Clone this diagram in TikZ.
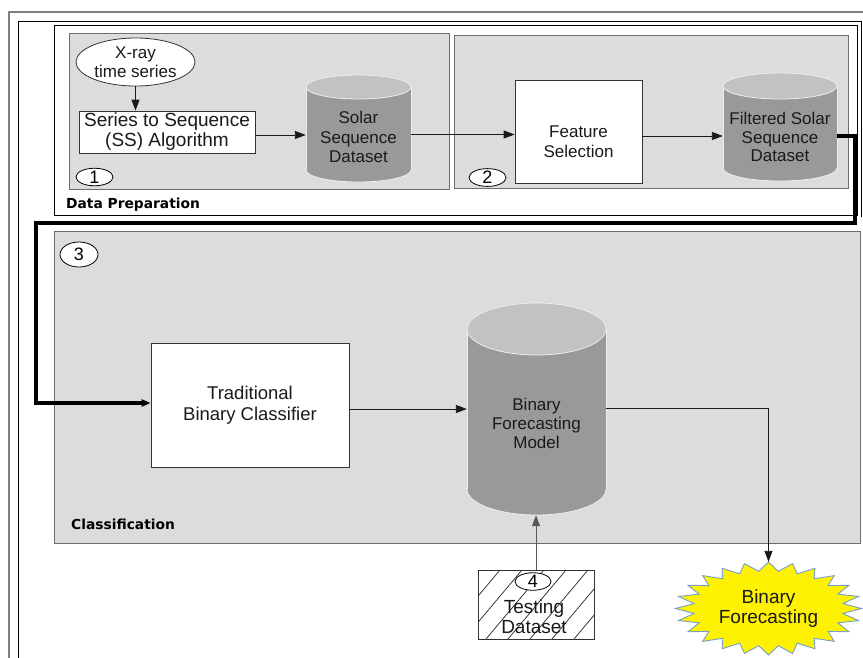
\documentclass[tikz,border=0pt]{standalone}
\usepackage{fontspec}
\setmainfont{Liberation Sans}
\newfontfamily\labfont{DejaVu Sans}
\usetikzlibrary{arrows.meta,shapes.geometric}
\definecolor{panel}{HTML}{DCDCDC}
\definecolor{panelline}{HTML}{6E6E6E}
\definecolor{cylbody}{HTML}{999999}
\definecolor{cyltop}{HTML}{C2C2C2}
\definecolor{cyledge}{HTML}{EEEEEE}
\definecolor{starline}{HTML}{729FCF}
\definecolor{frameg}{HTML}{808080}
\definecolor{txt}{HTML}{1A1A1A}
\newcommand\fsz[2]{\fontsize{#1}{#2}\selectfont}
% #1 x1, #2 y top, #3 x2, #4 y bottom, #5 ry
\newcommand\cylpaint[5]{%
  \pgfmathsetmacro\cylcx{(#1+#3)/2}%
  \pgfmathsetmacro\cylrx{(#3-#1)/2}%
  \path[fill=cylbody,draw=cyledge,line width=0.8pt] (\cylcx,#4-#5) ellipse[x radius=\cylrx pt, y radius=#5 pt];
  \fill[cylbody] (#1,#2+#5) rectangle (#3,#4-#5);
  \draw[cyledge,line width=0.8pt] (#1,#2+#5) -- (#1,#4-#5) (#3,#2+#5) -- (#3,#4-#5);
  \path[fill=cyltop,draw=cyledge,line width=0.8pt] (\cylcx,#2+#5) ellipse[x radius=\cylrx pt, y radius=#5 pt];
}
\begin{document}
\begin{tikzpicture}[x=1pt,y=-1pt,
  panelbox/.style={fill=panel,draw=panelline,line width=0.9pt},
  whitebox/.style={rectangle,fill=white,draw=black!80,line width=0.8pt,inner sep=0pt,align=center,text=txt},
  cylnode/.style={rectangle,inner sep=0pt,draw=none},
  cyltext/.style={align=center,text=txt,font=\fsz{17}{19.5},inner sep=0pt},
  numlab/.style={ellipse,fill=white,draw=black,line width=0.8pt,inner sep=0pt,font=\fsz{18}{18}},
  seclab/.style={anchor=west,inner sep=0pt,font=\labfont\bfseries\fsz{13.8}{16}},
  conn/.style={draw=black!90,line width=0.9pt,-{Triangle[length=11pt,width=8pt]}},
  thickconn/.style={draw=black,line width=3.2pt,-{Triangle[length=9pt,width=7pt]}}
]
\useasboundingbox (0,0) rectangle (863,657);
\fill[white] (0,0) rectangle (863,657);
% outer frames
\draw[frameg,line width=1.4pt] (9,700) -- (9,12) -- (900,12);
\draw[black,line width=0.9pt] (18,700) -- (18,21) -- (861,21) -- (861,217);
% data preparation box
\draw[black,line width=0.8pt,fill=white] (54,25) rectangle (857,215);
\draw[panelbox] (69,33) rectangle (449,189);
\draw[panelbox] (454,35) rectangle (848,188);
\node[seclab] (dp) at (66,205) {Data Preparation};
% classification box
\draw[panelbox] (54,231) rectangle (860,543);
\node[seclab] (cl) at (71,524) {Classification};

% step 1
\node[ellipse,fill=white,draw=black!80,line width=0.8pt,minimum width=119pt,minimum height=48pt,inner sep=0pt,align=center,text=txt,font=\fsz{17}{19}] (xray) at (135.5,62) {X-ray\\time series};
\node[whitebox,minimum width=176pt,minimum height=42pt,font=\fsz{19}{20}] (ss) at (167,132) {Series to Sequence\\(SS) Algorithm};
\cylpaint{306}{75}{411}{182}{12}
\node[cylnode,minimum width=105pt,minimum height=107pt] (solar) at (358.5,128.5) {};
\node[cyltext] (solart) at (358.5,137) {Solar\\Sequence\\Dataset};
\node[numlab,minimum width=37pt,minimum height=16pt] (l1) at (94.5,177) {1};

% step 2
\node[whitebox,minimum width=127pt,minimum height=103pt] (feat) at (578.5,131.5) {};
\node[cyltext] (featt) at (578.5,141.5) {Feature\\Selection};
\cylpaint{723}{73}{837}{181}{13}
\node[cylnode,minimum width=114pt,minimum height=108pt] (filt) at (780,127) {};
\node[cyltext,font=\fsz{17}{18.5}] (filtt) at (780,137) {Filtered Solar\\Sequence\\Dataset};
\node[numlab,minimum width=37pt,minimum height=17pt] (l2) at (487.5,177.5) {2};

% step 3
\node[numlab,minimum width=38pt,minimum height=25pt] (l3) at (79,254.5) {3};
\node[whitebox,minimum width=198pt,minimum height=124pt,font=\fsz{18.5}{21}] (trad) at (250,405) {Traditional\\Binary Classifier};
\cylpaint{467}{303}{606}{515}{26}
\node[cylnode,minimum width=139pt,minimum height=212pt] (model) at (536.5,409) {};
\node[cyltext,font=\fsz{17}{19}] (modelt) at (536.5,423) {Binary\\Forecasting\\Model};

% step 4 testing dataset
\node[rectangle,draw=black!80,line width=0.8pt,minimum width=116pt,minimum height=69pt,inner sep=0pt] (test) at (536,604.5) {};
\begin{scope}
  \clip (478,570) rectangle (594,639);
  \foreach \k in {0,...,9} {
    \draw[black!85,line width=0.7pt] (420+22*\k,639) -- ++(58,-69);
  }
\end{scope}
\node[numlab,minimum width=36pt,minimum height=17pt] (l4) at (533,581.5) {4};
\node[cyltext,font=\fsz{19}{20}] (testt) at (534,617) {Testing\\Dataset};

% output star
\path[fill=yellow,draw=starline,line width=0.9pt]
  plot[samples at={0,...,47},variable=\i]
  ({768.5+ifthenelse(mod(\i,2)==0,93,75)*cos(90+7.5*\i)},
   {608.5-ifthenelse(mod(\i,2)==0,46.5,37.5)*sin(90+7.5*\i)}) -- cycle;
\node[cylnode,minimum width=186pt,minimum height=93pt,align=center,text=txt,font=\fsz{19}{20}] (star) at (768.5,608.5) {Binary\\Forecasting};

% connectors
\draw[conn] (xray.south) -- (xray.south |- ss.north);
\draw[conn] ([yshift=-3pt]ss.east) -- ([yshift=-3pt]ss.east -| solar.west);
\draw[conn] ([yshift=-3pt]feat.west -| solar.east) -- ([yshift=-3pt]feat.west);
\draw[conn] ([yshift=-4.5pt]feat.east) -- ([yshift=-4.5pt]feat.east -| filt.west);
\coordinate (c1) at (855,223);
\coordinate (c2) at (36,223);
\draw[thickconn] ([yshift=-9pt]filt.east) -| (c1) -- (c2) |- ([yshift=2pt]trad.west);
\draw[conn] ([yshift=-4pt]trad.east) -- ([yshift=-4pt]trad.east -| model.west);
\draw[conn] ([yshift=1pt]model.east) -| (star.north);
\draw[conn,draw=black!65] (test.north) -- (test.north |- model.south);
\end{tikzpicture}
\end{document}
